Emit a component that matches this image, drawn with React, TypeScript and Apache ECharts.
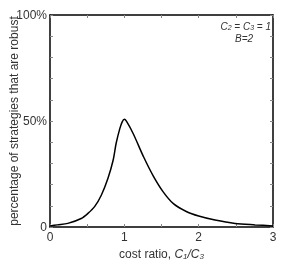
import React, { useEffect, useRef } from "react";
import * as echarts from "echarts";

const xValues = [0, 0.1, 0.24, 0.42, 0.51, 0.6, 0.69, 0.78, 0.85, 0.89, 0.94, 0.97, 1.0, 1.03, 1.12, 1.26, 1.39, 1.52, 1.66, 1.84, 2.0, 2.22, 2.49, 2.76, 3.0];
const yValues = [0.5, 1.0, 1.7, 4.0, 6.4, 9.6, 15, 23, 31.6, 39.5, 46.5, 49.5, 50.8, 49.8, 44, 33, 24, 16.7, 11, 7.2, 5.2, 3.3, 1.7, 1.0, 0.5];
const xTickLabels = ["0", "1", "2", "3"];
const yTickLabels: Record<number, string> = { 0: "0", 50: "50%", 100: "100%" };

export default function App() {
  const ref = useRef<HTMLDivElement>(null);
  useEffect(() => {
    if (!ref.current) return;
    const chart = echarts.init(ref.current, undefined, { renderer: "svg" });
    const font = "Liberation Sans, Arial, Helvetica, sans-serif";
    const textColor = "#333";
    const axisLine = { show: true, onZero: false, lineStyle: { color: "#000", width: 1.5 } };
    const tick = { show: true, inside: true, length: 3, lineStyle: { color: "#888", width: 1 } };
    chart.setOption({
      animation: false,
      grid: { left: 50, right: 13, top: 15, bottom: 35, outerBoundsMode: "none", containLabel: false },
      xAxis: [
        {
          type: "value",
          min: 0,
          max: 3,
          interval: 0.5,
          axisLine,
          axisTick: tick,
          splitLine: { show: false },
          axisLabel: {
            color: textColor,
            fontFamily: font,
            fontSize: 12,
            margin: 4,
            formatter: (v: number) => (Number.isInteger(v) ? xTickLabels[v] : ""),
          },
          name: "{n|cost ratio, }{i|C}{s|1}{i|/C}{s|3}",
          nameLocation: "middle",
          nameGap: 20,
          nameMoveOverlap: false,
          nameTextStyle: {
            rich: {
              n: { fontFamily: font, fontSize: 12, color: textColor },
              i: { fontFamily: font, fontSize: 12, color: textColor, fontStyle: "italic" },
              s: { fontFamily: font, fontSize: 8, color: textColor, fontStyle: "italic", padding: [5, 0, 0, 0] },
            },
          },
        },
        {
          type: "value",
          position: "top",
          min: 0,
          max: 3,
          interval: 0.5,
          axisLine,
          axisTick: tick,
          splitLine: { show: false },
          axisLabel: { show: false },
        },
      ],
      yAxis: [
        {
          type: "value",
          min: 0,
          max: 100,
          interval: 10,
          axisLine,
          axisTick: tick,
          splitLine: { show: false },
          axisLabel: {
            color: textColor,
            fontFamily: font,
            fontSize: 12,
            margin: 3,
            formatter: (v: number) => yTickLabels[v] ?? "",
          },
          name: "percentage of strategies that are robust",
          nameLocation: "middle",
          nameGap: 30,
          nameMoveOverlap: false,
          nameTextStyle: { fontFamily: font, fontSize: 12, color: textColor },
        },
        {
          type: "value",
          position: "right",
          min: 0,
          max: 100,
          interval: 10,
          axisLine,
          axisTick: tick,
          splitLine: { show: false },
          axisLabel: { show: false },
        },
      ],
      graphic: [
        {
          type: "text",
          right: 15,
          top: 21,
          style: {
            text: "{i|C}{s|2}{i| = C}{s|3}{i| = 1}",
            rich: {
              i: { fontFamily: font, fontSize: 10, fontStyle: "italic", fill: textColor },
              s: { fontFamily: font, fontSize: 7, fontStyle: "italic", fill: textColor, padding: [3, 0, 0, 0] },
            },
          },
        },
        {
          type: "text",
          left: 235,
          top: 33,
          style: { text: "B=2", fontFamily: font, fontSize: 10, fontStyle: "italic", fill: textColor },
        },
      ],
      series: [
        {
          type: "line",
          data: xValues.map((x, i) => [x, yValues[i]]),
          smooth: 0.3,
          showSymbol: false,
          lineStyle: { color: "#000", width: 1.5 },
        },
      ],
    });
    return () => chart.dispose();
  }, []);
  return <div ref={ref} style={{ position: "fixed", left: 0, top: 0, width: 286, height: 262 }} />;
}
